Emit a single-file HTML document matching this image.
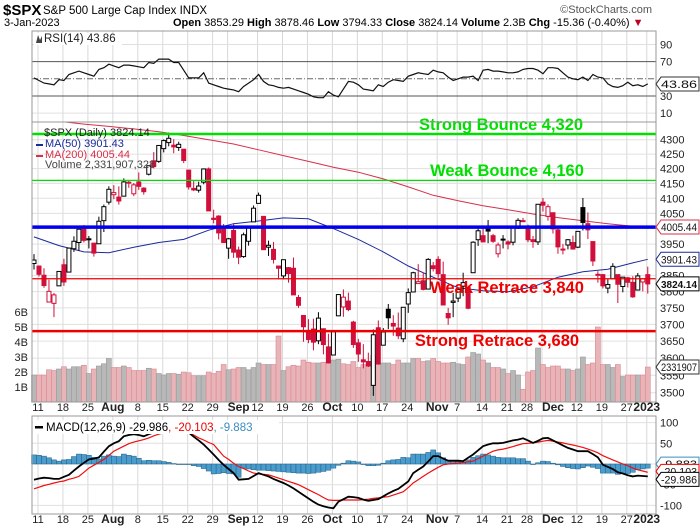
<!DOCTYPE html>
<html><head><meta charset="utf-8"><style>
html,body{margin:0;padding:0;background:#fff;}
svg{display:block;font-family:"Liberation Sans",Arial,sans-serif;}
</style></head><body>
<svg id="chart" width="700" height="530" viewBox="0 0 700 530" xmlns="http://www.w3.org/2000/svg">
<defs><clipPath id="mainclip"><rect x="32" y="122" width="624" height="280"/></clipPath></defs>
<g id="hdr">
<text x="3" y="15" font-size="15" font-weight="bold">$SPX</text>
<text x="43" y="14" font-size="11.5">S&amp;P 500 Large Cap Index  INDX</text>
<text x="652" y="13" font-size="11" fill="#555" text-anchor="end">©StockCharts.com</text>
<text x="4" y="26" font-size="11">3-Jan-2023</text>
<text x="173" y="26" font-size="11"><tspan font-weight="bold">Open</tspan> 3853.29 <tspan font-weight="bold">High</tspan> 3878.46 <tspan font-weight="bold">Low</tspan> 3794.33 <tspan font-weight="bold">Close</tspan> 3824.14 <tspan font-weight="bold">Volume</tspan> 2.3B <tspan font-weight="bold">Chg</tspan> -15.36 (-0.40%) <tspan fill="#c00020">▼</tspan></text>
</g>
<g id="g"></g>
</svg>
<script>
const openP=[3888,3880,3851,3768,3764,3818,3884,3861,3935,3955,3999,3965,3953,3951,4026,4087,4112,4104,4107,4154,4115,4155,4134,4181,4227,4225,4269,4290,4281,4273,4267,4195,4133,4127,4154,4199,4034,4041,4000,3937,3994,3931,3910,3959,4022,4083,4040,3940,3933,3880,3849,3875,3873,3782,3727,3682,3686,3651,3687,3633,3609,3726,3753,3771,3707,3645,3595,3590,3521,3690,3638,3746,3703,3689,3657,3762,3799,3825,3834,3808,3881,3901,3853,3733,3767,3780,3817,3813,3859,3964,3977,4007,3977,3919,3966,3957,3956,4001,4023,4005,3964,3957,4087,4040,4052,3996,3934,3947,3955,3940,4069,4016,3958,3854,3853,3811,3840,3853,3816,3843,3829,3805,3830,3853];
const highP=[3918,3880,3873,3837,3796,3864,3903,3939,3975,3999,4012,3976,3953,4039,4079,4140,4144,4140,4167,4161,4151,4187,4137,4211,4257,4280,4301,4325,4302,4293,4267,4195,4159,4156,4200,4204,4062,4044,4015,3970,4018,3942,3987,4010,4076,4119,4040,3961,3957,3880,3900,3877,3907,3790,3727,3716,3717,3737,3688,3672,3679,3791,3807,3797,3711,3657,3641,3616,3685,3712,3689,3762,3728,3736,3752,3810,3862,3886,3860,3905,3893,3911,3894,3750,3796,3813,3859,3819,3959,4002,4009,4028,3983,3955,3979,3962,4004,4034,4035,4013,3976,4080,4101,4080,4053,4001,3950,3966,3977,3991,4101,4053,3958,3864,3855,3838,3889,3853,3846,3846,3848,3858,3840,3878];
const lowP=[3869,3847,3812,3768,3722,3818,3818,3861,3925,3928,3955,3936,3910,3951,3989,4079,4097,4079,4107,4135,4107,4128,4112,4177,4201,4220,4256,4277,4253,4261,4219,4129,4124,4119,4147,4058,4017,3965,3954,3903,3906,3886,3906,3945,4022,4083,3932,3912,3888,3838,3838,3828,3790,3750,3648,3644,3623,3641,3611,3584,3609,3726,3723,3740,3630,3589,3570,3574,3491,3581,3638,3686,3666,3656,3647,3735,3799,3825,3804,3808,3863,3843,3758,3699,3722,3768,3786,3746,3859,3944,3966,3953,3954,3907,3936,3933,3946,3999,4021,3956,3938,3947,4056,4026,3984,3919,3917,3933,3933,3937,3994,3966,3880,3828,3810,3795,3840,3765,3798,3813,3781,3805,3801,3794];
const closeP=[3899,3854,3819,3801,3790,3863,3830,3937,3959,3998,3962,3967,3921,4024,4072,4130,4119,4091,4155,4152,4145,4140,4122,4210,4207,4280,4297,4305,4275,4284,4228,4138,4128,4141,4199,4058,4030,3986,3955,3967,3924,3908,3980,4006,4067,4110,3932,3946,3901,3873,3900,3856,3790,3758,3693,3655,3647,3719,3640,3586,3678,3791,3783,3745,3640,3612,3589,3577,3669,3583,3677,3720,3695,3666,3752,3797,3859,3831,3807,3901,3872,3856,3759,3720,3771,3807,3828,3749,3956,3993,3957,3992,3959,3947,3965,3950,4003,4027,4026,3964,3958,4080,4077,4072,3999,3941,3933,3964,3934,3991,4020,3996,3896,3852,3818,3822,3879,3823,3845,3829,3784,3849,3840,3824];
const volumeB=[1.8,1.8,1.8,2.15,2.1,2.2,2.35,2.2,2.35,2.35,2.45,1.9,2.2,2.4,2.55,2.9,2.3,2.3,2.4,2.3,2.1,2.1,2.1,2.25,2.2,1.9,1.8,1.9,1.9,1.85,2.0,1.95,1.75,1.75,1.75,2.0,1.9,2.05,2.5,2.15,2.2,2.3,2.3,2.15,2.3,2.6,2.5,2.5,2.5,4.4,2.1,2.35,2.45,2.4,2.8,2.65,2.6,2.6,2.65,2.65,2.8,2.85,2.55,2.5,2.7,2.3,2.5,2.5,3.1,2.5,2.6,2.6,2.5,2.8,2.6,2.6,2.9,2.9,2.7,2.75,2.9,2.7,2.6,2.6,2.65,2.55,2.5,3.0,3.3,3.2,2.8,2.6,2.3,2.3,2.2,1.9,2.1,1.8,0.85,2.0,2.1,3.6,2.5,2.3,2.4,2.4,2.2,2.2,2.1,2.2,3.0,2.5,2.6,5.0,2.5,2.5,2.3,2.5,1.7,1.8,1.8,1.8,1.8,2.33];
const ma50=[3973,3945,3925,3922,3940,3955,3965,3995,4016,4025,4035,4032,4000,3965,3925,3880,3845,3812,3803,3800,3815,3845,3862,3870,3890];
const ma200=[4375,4365,4355,4347,4338,4328,4315,4300,4285,4265,4245,4225,4205,4188,4165,4138,4110,4092,4075,4062,4048,4036,4026,4016,4008];
const maLast50=3901.43, maLast200=4005.44;
const rsi=[51,48,45,44,43,49,48,55,57,59,57,55,53,61,63,67,65,63,66,66,65,64,63,69,68,73,73,73,69,69,60,51,51,51,57,45,43,41,39,38,37,35,41,45,49,55,47,43,42,40,39,40,38,36,34,32,29,28,28,35,31,29,38,47,46,43,38,37,36,43,41,46,49,48,47,53,55,57,56,55,60,58,57,52,48,50,52,52,53,48,60,61,59,59,58,57,57,58,61,62,62,60,56,63,63,62,57,52,50,49,52,48,55,52,51,44,41,40,42,46,42,43,41,44];
const macd=[-38,-35,-33,-34,-36,-36,-31,-26,-16,-6,3,11,13,16,30,43,50,55,67,70,72,70,67,72,76,80,81,82,81,80,78,76,66,57,47,35,23,10,-2,-12,-22,-38,-37,-36,-29,-22,-26,-30,-36,-41,-46,-52,-59,-67,-75,-83,-91,-98,-102,-105,-107,-91,-85,-79,-80,-82,-86,-89,-87,-85,-78,-71,-65,-60,-51,-42,-22,-14,-6,6,19,19,13,8,8,8,7,15,23,33,43,47,50,50,51,54,57,59,62,57,51,56,62,63,57,51,45,39,35,31,31,31,24,16,-2,-7,-12,-20,-23,-27,-30,-28,-29,-30];
const signal=[-60,-56,-52,-49,-46,-43,-41,-37,-34,-30,-20,-10,-3,4,11,21,31,37,43,49,53,56,59,63,68,72,75,78,80,81,79,76,70,63,58,52,47,33,19,11,2,-6,-11,-17,-22,-24,-25,-26,-30,-34,-38,-42,-46,-50,-56,-62,-68,-74,-81,-87,-88,-88,-87,-87,-87,-87,-86,-85,-83,-82,-80,-79,-75,-71,-67,-57,-46,-38,-30,-22,-15,-8,-2,0,1,2,4,5,7,13,19,25,31,34,36,39,42,46,49,50,51,53,55,57,55,53,51,48,46,43,40,36,32,27,20,15,10,5,0,-4,-10,-14,-17,-20];
const hist=[22,21,19,15,10,7,10,11,18,24,23,21,16,12,19,22,19,18,24,21,19,14,8,9,8,8,6,4,1,-1,-1,0,-4,-6,-11,-17,-24,-23,-21,-23,-24,-32,-10,-12,-14,-15,-15,-16,-17,-18,-19,-20,-21,-22,-22,-23,-22,-20,-18,-15,-10,-3,2,8,7,5,0,-4,-4,-3,2,8,10,11,16,15,24,24,24,28,34,27,15,8,7,6,3,10,16,20,24,22,19,16,15,15,15,13,13,7,0,3,7,6,2,-2,-6,-9,-11,-12,-9,-5,-8,-11,-22,-22,-22,-25,-23,-23,-20,-14,-12,-10];
const dateLabels=["11","18","25","Aug","8","15","22","29","Sep","12","19","26","Oct","10","17","24","Nov","7","14","21","28","Dec","12","19","27","2023"];
const dateIdx=[1,6,11,16,21,26,31,36,39,45,50,55,60,65,70,75,81,85,90,95,99,102,109,114,119,123];
const boldLabels=["Aug","Sep","Oct","Nov","Dec","2023"];
const priceTicks=[4300,4250,4200,4150,4100,4050,3950,3850,3800,3750,3700,3650,3600,3550,3500];
const volTicks=[1,2,3,4,5,6];
const rsiTicks=[90,70,30,10];
const macdTicks=[100,50,-50,-100];

const NS="http://www.w3.org/2000/svg";
const G=document.getElementById('g');
function mk(tag,attrs,parent){const e=document.createElementNS(NS,tag);for(const k in attrs)e.setAttribute(k,attrs[k]);(parent||G).appendChild(e);return e;}
const L=32,R=656;
const xi=i=>34+i*4.99;
const yP=p=>10422-1229*Math.log(p);
const yV=v=>402-v*15;
const yR=v=>78.8-(v-50)*0.857;
const yM=v=>464-v*0.414;
const RT=31,RB=122,MT=122,MB=402,CT=416,CB=514;

[[RT,RB,'rsi-panel'],[MT,MB,'price-panel'],[CT,CB,'macd-panel']].forEach(p=>{
  const r=mk('rect',{x:L,y:p[0],width:R-L,height:p[1]-p[0],fill:'#fff',stroke:'none'});
  
  
  dateIdx.forEach(i=>{const l=mk('line',{x1:xi(i)-1,x2:xi(i)-1,y1:p[0],y2:p[1],stroke:'#d8d8d8','stroke-width':1});
    
    });
});
priceTicks.forEach(t=>{const l=mk('line',{x1:L,x2:R,y1:yP(t),y2:yP(t),stroke:'#e0e0e0'});
  
  
  const tx=mk('text',{x:R+4,y:yP(t)+4,'font-size':11,fill:'#222'});tx.textContent=t;
  
  });
[90,10].forEach(t=>{const l=mk('line',{x1:L,x2:R,y1:yR(t),y2:yR(t),stroke:'#e0e0e0'});
  
  });
rsiTicks.forEach(t=>{const tx=mk('text',{x:R+4,y:yR(t)+4,'font-size':11,fill:'#222'});tx.textContent=t;
  
  });
[70,30].forEach(t=>{const l=mk('line',{x1:L,x2:R,y1:yR(t),y2:yR(t),stroke:'#555'});
  
  });
{const l=mk('line',{x1:L,x2:R,y1:yR(50),y2:yR(50),stroke:'#666','stroke-dasharray':'6,2,1,2'});
 
 }
[100,50,0,-50,-100].forEach(t=>{const l=mk('line',{x1:L,x2:R,y1:yM(t),y2:yM(t),stroke:'#e0e0e0'});
  
  });
macdTicks.forEach(t=>{const tx=mk('text',{x:R+4,y:yM(t)+4,'font-size':11,fill:'#222'});tx.textContent=t;
  
  });
volTicks.forEach(t=>{const tx=mk('text',{x:28,y:yV(t)+4,'font-size':11,fill:'#222','text-anchor':'end'});tx.textContent=t+'B';
  
  });

{let d='';rsi.forEach((v,i)=>{d+=(i?'L':'M')+xi(i).toFixed(1)+','+yR(v).toFixed(1);});
 const p=mk('path',{d:d,fill:'none',stroke:'#111','stroke-width':1.2});
 
 }

volumeB.forEach((v,i)=>{const up=i===0||closeP[i]>=closeP[i-1];
  const r=mk('rect',{x:xi(i)-2.5,y:yV(v),width:5,height:402-yV(v),fill:up?'#b8b8b8':'#e8b4b8',stroke:up?'#999':'#d98890','stroke-width':0.6});
  
  });

const clipG=mk('g',{'clip-path':'url(#mainclip)'});


function maPath(arr,last){let d='';arr.forEach((v,k)=>{d+=(k?'L':'M')+xi(k*5).toFixed(1)+','+yP(v).toFixed(1);});d+='L'+xi(123).toFixed(1)+','+yP(last).toFixed(1);return d;}
{const p=mk('path',{d:maPath(ma200,maLast200),fill:'none',stroke:'#d8304a','stroke-width':1},clipG);
 
 
 const q=mk('path',{d:maPath(ma50,maLast50),fill:'none',stroke:'#1a2a9a','stroke-width':1},clipG);
 
 }

closeP.forEach((c,i)=>{const o=openP[i];const up=i===0||c>=closeP[i-1];const col=up?'#000':'#d0103a';
  const x=xi(i);
  const w=mk('line',{x1:x,x2:x,y1:yP(highP[i]),y2:yP(lowP[i]),stroke:col,'stroke-width':1});
  
  
  const top=yP(Math.max(o,c)),bot=yP(Math.min(o,c));
  const b=mk('rect',{x:x-2,y:top,width:4,height:Math.max(1,bot-top),fill:c>=o?'#fff':col,stroke:col,'stroke-width':1});
  
  });

const levels=[[4320,'#00e000',2.5,'Strong Bounce 4,320',501,130,'strong-bounce'],[4160,'#00e000',1.2,'Weak Bounce 4,160',507,176,'weak-bounce'],[4005,'#0000ee',3.5,'',0,0,'ma-level'],[3840,'#ee0000',1.2,'Weak Retrace 3,840',507,293,'weak-retrace'],[3680,'#ee0000',2.5,'Strong Retrace 3,680',497,346,'strong-retrace']];
levels.forEach(l=>{const ln=mk('line',{x1:L,x2:R,y1:yP(l[0]),y2:yP(l[0]),stroke:l[1],'stroke-width':l[2]});
  
  
  if(l[3]){const t=mk('text',{x:l[4],y:l[5],'font-size':16.5,'font-weight':'bold',fill:l[1]==='#00e000'?'#00e000':'#ee0000','text-anchor':'middle'});t.textContent=l[3];
    
    }});

hist.forEach((v,i)=>{const y0=yM(0),y1=yM(v);
  const r=mk('rect',{x:xi(i)-2.5,y:Math.min(y0,y1),width:5,height:Math.max(0.5,Math.abs(y1-y0)),fill:'#4a9ccc',stroke:'#1f5f85','stroke-width':0.5});
  
  });
{let d='';signal.forEach((v,i)=>{d+=(i?'L':'M')+xi(i).toFixed(1)+','+yM(v).toFixed(1);});
 const p=mk('path',{d:d,fill:'none',stroke:'#ee1010','stroke-width':1.2});
 
 
 let e='';macd.forEach((v,i)=>{e+=(i?'L':'M')+xi(i).toFixed(1)+','+yM(v).toFixed(1);});
 const q=mk('path',{d:e,fill:'none',stroke:'#000','stroke-width':1.8});
 
 }

[[RT,RB],[MT,MB],[CT,CB]].forEach(p=>{const r=mk('rect',{x:L,y:p[0],width:R-L,height:p[1]-p[0],fill:'none',stroke:'#999'});
  
  });

[411,523].forEach(yy=>{dateIdx.forEach((i,k)=>{const lab=dateLabels[k];const b=boldLabels.includes(lab);
  const t=mk('text',{x:xi(i)-1,y:yy,'font-size':b?12:11,'font-weight':b?'bold':'normal','text-anchor':lab==='2023'?'middle':(lab==='Sep'||lab==='Dec'?'start':'middle'),fill:'#222'});
  t.textContent=lab;
  
  });});

function txt(x,y,s,fill,name,size,anchor){const t=mk('text',{x:x,y:y,'font-size':size||11,fill:fill||'#222','text-anchor':anchor||'start'});t.textContent=s;
  
  return t;}
{const r=mk('rect',{x:34,y:33,width:88,height:12,fill:'#fff'});
 
 }
mk('path',{d:'M36,43 L38,35 L40,40 L42,36 L42,43 Z',fill:'#444'});
txt(44,42,'RSI(14) 43.86','#222','rsi-legend',11.5);
txt(44,136,'$SPX (Daily) 3824.14','#222','price-legend');
txt(45,147,'MA(50) 3901.43','#1a2a9a','ma50-legend');
txt(45,158,'MA(200) 4005.44','#d8304a','ma200-legend');
txt(45,168,'Volume 2,331,907,328','#444','volume-legend');
mk('rect',{x:36,y:144,width:7,height:2,fill:'#1a2a9a'});
mk('rect',{x:36,y:155,width:7,height:2,fill:'#d8304a'});
{const r=mk('rect',{x:33,y:420,width:246,height:14,fill:'#fff'});
 
 }
{const t=mk('text',{x:46,y:431,'font-size':11.5});
 
 
 t.innerHTML='<tspan fill="#000">MACD(12,26,9) -29.986</tspan><tspan fill="#e00">, -20.103</tspan><tspan fill="#3a8cc0">, -9.883</tspan>';}
mk('rect',{x:35,y:426,width:8,height:2.5,fill:'#000'});

function tag(y,s,stroke,name,bold){const g=mk('g',{});
  
  
  mk('path',{d:`M${R},${y} L${R+5},${y-7} H${R+43} V${y+7} H${R+5} Z`,fill:'#fff',stroke:stroke,'stroke-width':1},g);
  const t=mk('text',{x:R+5,y:y+4,'font-size':bold?10.5:11,'font-weight':bold?'bold':'normal',fill:'#111',textLength:36,lengthAdjust:'spacingAndGlyphs'},g);t.textContent=s;}
tag(yR(43.86),'43.86','#333','rsi-value-tag');
tag(yP(maLast200),'4005.44','#d8304a','ma200-value-tag');
tag(yP(maLast50),'3901.43','#1a2a9a','ma50-value-tag');
tag(yP(3824.14),'3824.14','#000','close-value-tag',true);
tag(yV(2.33),'2331907','#333','volume-value-tag');
tag(yM(-9.883)-4,'-9.883','#3a8cc0','hist-value-tag');
tag(yM(-20.103)-1,'-20.103','#e00','signal-value-tag');
tag(yM(-29.986)+3,'-29.986','#000','macd-value-tag');
</script>
</body></html>
